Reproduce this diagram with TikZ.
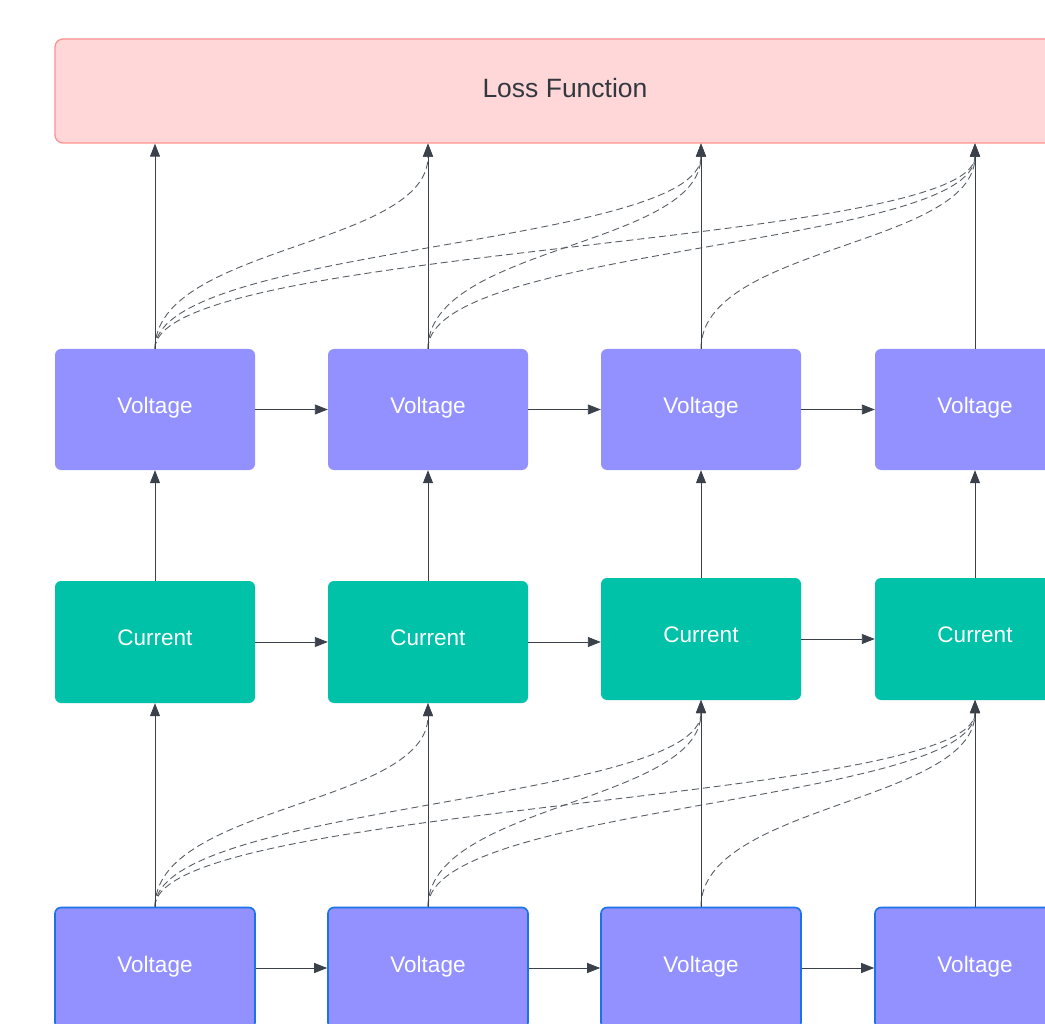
\documentclass[tikz,border=0pt]{standalone}
\usepackage{fontspec}
\setmainfont{Liberation Sans}
\usetikzlibrary{arrows.meta}
\definecolor{voltfill}{HTML}{9391FF}
\definecolor{curfill}{HTML}{00C2A8}
\definecolor{lossfill}{HTML}{FFD7D8}
\definecolor{lossdraw}{HTML}{FF9191}
\definecolor{bluedraw}{HTML}{1A73E8}
\definecolor{linec}{HTML}{3A414A}
\definecolor{txtdark}{HTML}{333840}
\tikzset{
  voltbox/.style={rectangle, rounded corners=6pt, fill=voltfill, draw=none,
    minimum width=200pt, minimum height=121pt, inner sep=0pt, text depth=8pt,
    text=white, font=\fontsize{22.5}{26}\selectfont},
  voltboxb/.style={voltbox, draw=bluedraw, line width=1.6pt},
  curbox/.style={rectangle, rounded corners=6pt, fill=curfill, draw=none,
    minimum width=200pt, minimum height=122pt, inner sep=0pt, text depth=8pt,
    text=white, font=\fontsize{22.5}{26}\selectfont},
  lossbox/.style={rectangle, rounded corners=8pt, fill=lossfill, draw=lossdraw, line width=1.3pt,
    minimum width=1020pt, minimum height=104pt, inner sep=0pt, text depth=6pt,
    text=txtdark, font=\fontsize{26.5}{30}\selectfont},
  conn/.style={draw=linec, line width=0.9pt, -{Triangle[length=13pt,width=10pt]}},
  dconn/.style={draw=linec!85, line width=0.9pt, dash pattern=on 7pt off 4pt, -{Triangle[length=13pt,width=10pt]}},
}
\begin{document}
\begin{tikzpicture}[x=1pt,y=-1pt]
\useasboundingbox (0,0) rectangle (1045,1024);
% loss
\node[lossbox] (loss) at (565,91) {Loss Function};
% top voltage row
\node[voltbox] (vt1) at (155,409.5) {Voltage};
\node[voltbox] (vt2) at (428,409.5) {Voltage};
\node[voltbox] (vt3) at (701,409.5) {Voltage};
\node[voltbox] (vt4) at (975,409.5) {Voltage};
% current row
\node[curbox] (c1) at (155,642) {Current};
\node[curbox] (c2) at (428,642) {Current};
\node[curbox] (c3) at (701,639) {Current};
\node[curbox] (c4) at (975,639) {Current};
% bottom voltage row
\node[voltboxb] (vb1) at (155,968) {Voltage};
\node[voltboxb] (vb2) at (428,968) {Voltage};
\node[voltboxb] (vb3) at (701,968) {Voltage};
\node[voltboxb] (vb4) at (975,968) {Voltage};
% dashed curves, top group
\foreach \s/\t in {vt1/vt2, vt1/vt3, vt1/vt4, vt2/vt3, vt2/vt4, vt3/vt4}{
  \draw[dconn] (\s.north) .. controls +(0,-103) and +(0,103) .. (\t.north |- loss.south);
}
% dashed curves, bottom group
\foreach \s/\t in {vb1/c2, vb1/c3, vb1/c4, vb2/c3, vb2/c4, vb3/c4}{
  \draw[dconn] (\s.north) .. controls +(0,-102) and +(0,102) .. (\t.south);
}
% solid vertical arrows
\foreach \v in {vt1,vt2,vt3,vt4}{
  \draw[conn] (\v.north) -- (\v.north |- loss.south);
}
\foreach \c/\v in {c1/vt1,c2/vt2,c3/vt3,c4/vt4}{
  \draw[conn] (\c.north) -- (\v.south);
}
\foreach \v/\c in {vb1/c1,vb2/c2,vb3/c3,vb4/c4}{
  \draw[conn] (\v.north) -- (\c.south);
}
% horizontal arrows
\foreach \a/\b in {vt1/vt2,vt2/vt3,vt3/vt4,vb1/vb2,vb2/vb3,vb3/vb4}{
  \draw[conn] (\a.east) -- (\b.west);
}
\draw[conn] (c1.east) -- (c2.west);
\draw[conn] (c2.east) -- (c2.east -| c3.west);
\draw[conn] (c3.east) -- (c4.west);
\end{tikzpicture}
\end{document}
